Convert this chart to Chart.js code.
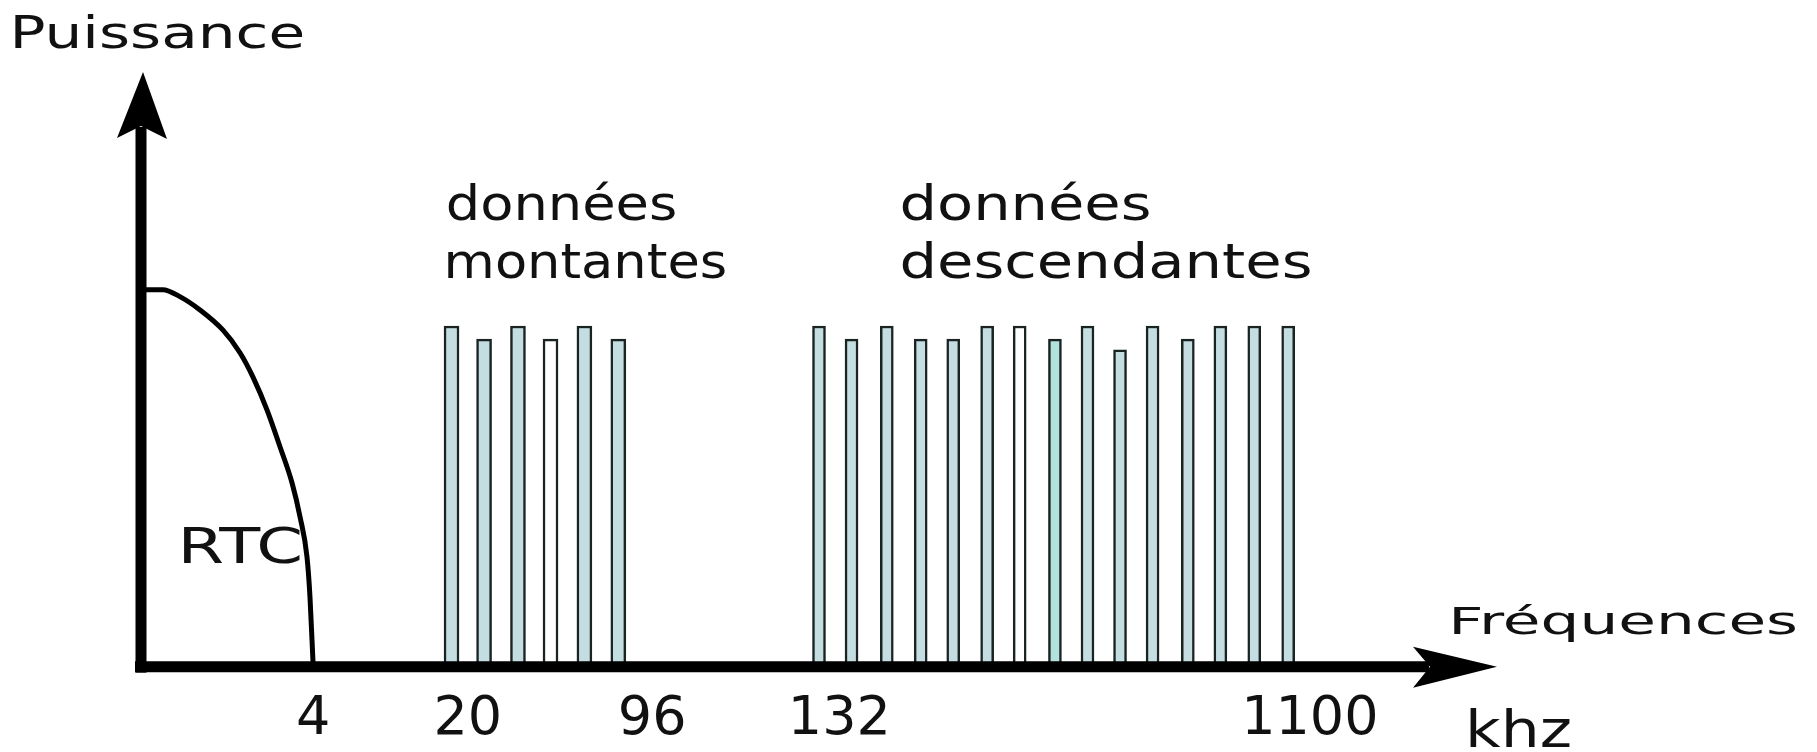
<!DOCTYPE html>
<html>
<head>
<meta charset="utf-8">
<script src="https://cdn.jsdelivr.net/npm/chart.js@4.4.1/dist/chart.umd.min.js"></script>
<style>
body { margin: 0; background: #fff; }
#wrap { width: 1817px; height: 752px; }
</style>
</head>
<body>
<div id="wrap"><canvas id="spectre"></canvas></div>
<script>
// axe des fréquences schématique (0-100), axe des puissances 0-100
var rtcFreq = [0, 1.6, 2.9, 4.35, 6.05, 7.3, 8.26, 9.29, 10.25, 11.14, 11.73, 12.24, 12.46, 12.7];
var rtcPuiss = [63.4, 63.4, 62.2, 60.0, 56.6, 52.8, 48.7, 43.2, 37.0, 30.9, 25.2, 18.5, 11.8, 0];

var montFreq = [22.9, 25.3, 27.8, 30.2, 32.7, 35.2];
var montPuiss = [57.3, 55.1, 57.3, 55.1, 57.3, 55.1];

var descFreq = [50.0, 52.4, 55.0, 57.5, 59.9, 62.4, 64.8, 67.4, 69.8, 72.2, 74.6, 77.2, 79.6, 82.1, 84.6];
var descPuiss = [57.3, 55.1, 57.3, 55.1, 55.1, 57.3, 57.3, 55.1, 57.3, 53.3, 57.3, 55.1, 57.3, 57.3, 57.3];

var tickPos = [12.7, 24.1, 37.7, 51.5, 86.2];
var tickLabels = ['4', '20', '96', '132', '1100'];

var bleu = '#c4dde0';
var montCouleurs = [bleu, bleu, bleu, '#ffffff', bleu, bleu];
var descCouleurs = [bleu, bleu, bleu, bleu, bleu, bleu, '#ffffff', '#b3e1dc', bleu, bleu, bleu, bleu, bleu, bleu, bleu];

function points(xs, ys) {
    var res = [];
    for (let i = 0; i < xs.length; i++) res.push({ x: xs[i], y: ys[i] });
    return res;
}

// textes posés en unités du graphique
var textes = [
    { t: 'Puissance', x: -9.3, y: 104.0, size: 45, w: 288 },
    { t: 'données', x: 22.64, y: 75.13, size: 48, w: 227 },
    { t: 'montantes', x: 22.64, y: 65.38, size: 48, w: 277 },
    { t: 'données', x: 56.12, y: 75.13, size: 48, w: 247 },
    { t: 'descendantes', x: 56.12, y: 65.38, size: 48, w: 408 },
    { t: 'RTC', x: 3.1, y: 17.48, size: 49, w: 117 },
    { t: 'Fréquences', x: 96.76, y: 5.55, size: 38, w: 342 },
    { t: 'khz', x: 98.0, y: -13.45, size: 51, w: 100 }
];

function texte(ctx, t, px, py, size, w) {
    ctx.font = size + 'px "DejaVu Sans"';
    ctx.textAlign = 'left';
    ctx.textBaseline = 'alphabetic';
    const m = ctx.measureText(t);
    const s = w / (m.actualBoundingBoxLeft + m.actualBoundingBoxRight);
    ctx.save();
    ctx.translate(px, py);
    ctx.scale(s, 1);
    ctx.fillText(t, m.actualBoundingBoxLeft, 0);
    ctx.restore();
}

const axesFleches = {
    id: 'axesFleches',
    afterDatasetsDraw(chart) {
        const ctx = chart.ctx;
        const xs = chart.scales.x, ys = chart.scales.y;
        const x0 = xs.getPixelForValue(0), y0 = ys.getPixelForValue(0);
        const xr = xs.getPixelForValue(100), yt = ys.getPixelForValue(100);
        ctx.save();
        ctx.strokeStyle = '#000';
        ctx.fillStyle = '#000';
        ctx.lineWidth = 11;
        ctx.beginPath();
        ctx.moveTo(x0, y0 + 6);
        ctx.lineTo(x0, yt + 55);
        ctx.moveTo(x0 - 6, y0);
        ctx.lineTo(xr - 68, y0);
        ctx.stroke();
        ctx.beginPath();
        ctx.moveTo(x0 + 2, yt);
        ctx.lineTo(x0 + 26, yt + 67);
        ctx.lineTo(x0, yt + 54);
        ctx.lineTo(x0 - 24, yt + 66);
        ctx.closePath();
        ctx.fill();
        ctx.beginPath();
        ctx.moveTo(xr, y0);
        ctx.lineTo(xr - 84, y0 + 21);
        ctx.lineTo(xr - 67, y0);
        ctx.lineTo(xr - 84, y0 - 20);
        ctx.closePath();
        ctx.fill();
        ctx.fillStyle = '#111';
        textes.forEach(function (o) {
            texte(ctx, o.t, xs.getPixelForValue(o.x), ys.getPixelForValue(o.y), o.size, o.w);
        });
        ctx.restore();
    }
};

Chart.defaults.font.family = '"DejaVu Sans"';

new Chart(document.getElementById('spectre'), {
    data: {
        datasets: [
            {
                type: 'line',
                label: 'RTC',
                data: points(rtcFreq, rtcPuiss),
                borderColor: '#000',
                borderWidth: 5,
                pointRadius: 0,
                cubicInterpolationMode: 'monotone',
                clip: 10
            },
            {
                type: 'bar',
                label: 'données montantes',
                data: points(montFreq, montPuiss),
                backgroundColor: montCouleurs,
                borderColor: '#1a2222',
                borderWidth: 2.5,
                barThickness: 15,
                grouped: false
            },
            {
                type: 'bar',
                label: 'données descendantes',
                data: points(descFreq, descPuiss),
                backgroundColor: descCouleurs,
                borderColor: '#1a2222',
                borderWidth: 2.5,
                barThickness: 13,
                grouped: false
            }
        ]
    },
    options: {
        responsive: true,
        maintainAspectRatio: false,
        animation: false,
        layout: { padding: { left: 141, right: 320, top: 72, bottom: -22 } },
        plugins: { legend: { display: false }, tooltip: { enabled: false } },
        scales: {
            x: {
                type: 'linear',
                min: 0,
                max: 100,
                offset: false,
                grid: { display: false, drawTicks: false, offset: false },
                border: { display: false },
                afterBuildTicks: function (axis) {
                    axis.ticks = tickPos.map(function (v) { return { value: v }; });
                },
                afterFit: function (axis) {
                    axis.paddingLeft = 0;
                    axis.paddingRight = 0;
                },
                ticks: {
                    autoSkip: false,
                    maxRotation: 0,
                    padding: 32,
                    color: '#111',
                    font: { size: 54, lineHeight: 0.8 },
                    callback: function (value, index) { return tickLabels[index]; }
                }
            },
            y: {
                display: false,
                min: 0,
                max: 100
            }
        }
    },
    plugins: [axesFleches]
});
</script>
</body>
</html>
